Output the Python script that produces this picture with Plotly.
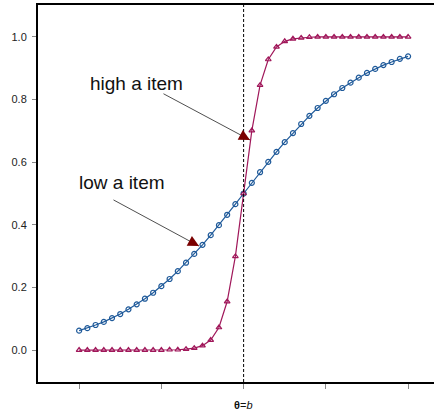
import plotly.graph_objects as go

theta = [round(-4 + 0.2 * i, 1) for i in range(41)]

low_a = [0.062, 0.070, 0.080, 0.090, 0.102, 0.115, 0.130, 0.146, 0.164, 0.183,
         0.204, 0.227, 0.252, 0.279, 0.307, 0.336, 0.367, 0.399, 0.432, 0.466,
         0.500, 0.534, 0.568, 0.601, 0.633, 0.664, 0.693, 0.722, 0.748, 0.773,
         0.796, 0.817, 0.837, 0.854, 0.870, 0.885, 0.898, 0.910, 0.920, 0.930, 0.938]

high_a = [0.000, 0.000, 0.000, 0.000, 0.000, 0.000, 0.000, 0.000, 0.000, 0.000,
          0.000, 0.001, 0.001, 0.003, 0.006, 0.014, 0.032, 0.072, 0.155, 0.299,
          0.500, 0.701, 0.846, 0.928, 0.968, 0.986, 0.994, 0.997, 0.999, 1.000,
          1.000, 1.000, 1.000, 1.000, 1.000, 1.000, 1.000, 1.000, 1.000, 1.000, 1.000]

y_ticks = [0.0, 0.2, 0.4, 0.6, 0.8, 1.0]
x_ticks = [-4, -2, 0, 2, 4]

blue = "#1f5a9a"
red = "#a0175a"

fig = go.Figure()
fig.add_trace(go.Scatter(x=theta, y=low_a, mode="lines+markers",
                         line=dict(color=blue, width=1.2),
                         marker=dict(symbol="circle-open", size=5, color=blue, line=dict(width=1.2))))
fig.add_trace(go.Scatter(x=theta, y=high_a, mode="lines+markers",
                         line=dict(color=red, width=1.2),
                         marker=dict(symbol="triangle-up-open", size=5, color=red, line=dict(width=1.2))))

fig.add_shape(type="line", x0=0, x1=0, y0=0, y1=1, yref="paper", xref="x",
              line=dict(color="black", width=1, dash="3px,2px"))

font_lbl = dict(family="Liberation Sans, Arial", size=19, color="#111")
fig.add_annotation(x=-2.6, y=0.85, text="high a item", showarrow=False, font=font_lbl)
fig.add_annotation(x=-2.95, y=0.536, text="low a item", showarrow=False, font=font_lbl)

arrows = [(0.155, 0.671, -88, -47), (-1.085, 0.332, -87, -47)]
for x, y, ax, ay in arrows:
    fig.add_annotation(x=x, y=y, ax=ax, ay=ay, text="", showarrow=True,
                       arrowhead=0, arrowwidth=0.8, arrowcolor="#222", standoff=0)
    fig.add_annotation(x=x, y=y, ax=ax * 0.1, ay=ay * 0.1, text="", showarrow=True,
                       arrowhead=2, arrowsize=2.2, arrowwidth=1, arrowcolor="#7a0000", standoff=0)

fig.add_annotation(x=0, y=-0.061, yref="paper", xref="x", yanchor="middle",
                   text="<b>θ</b>=<i>b</i>", showarrow=False,
                   font=dict(family="Liberation Sans, Arial", size=11, color="#111"))

fig.update_layout(
    width=434, height=413,
    margin=dict(l=38, r=0, t=5, b=31),
    paper_bgcolor="white", plot_bgcolor="white",
    showlegend=False,
    xaxis=dict(range=[-5.0, 4.63], tickvals=x_ticks, ticktext=["", "", "", "", ""],
               ticks="outside", ticklen=5, tickcolor="#888", tickwidth=1,
               showline=True, linecolor="black", linewidth=2, mirror=True,
               showgrid=False, zeroline=False),
    yaxis=dict(range=[-0.102, 1.102], tickvals=y_ticks, tickformat=".1f",
               ticks="outside", ticklen=4, tickcolor="#888", tickwidth=1,
               ticklabelstandoff=3,
               showline=True, linecolor="black", linewidth=2,
               showgrid=False, zeroline=False,
               tickfont=dict(family="Liberation Sans, Arial", size=11, color="#222")),
)

fig.write_html("out.html")
